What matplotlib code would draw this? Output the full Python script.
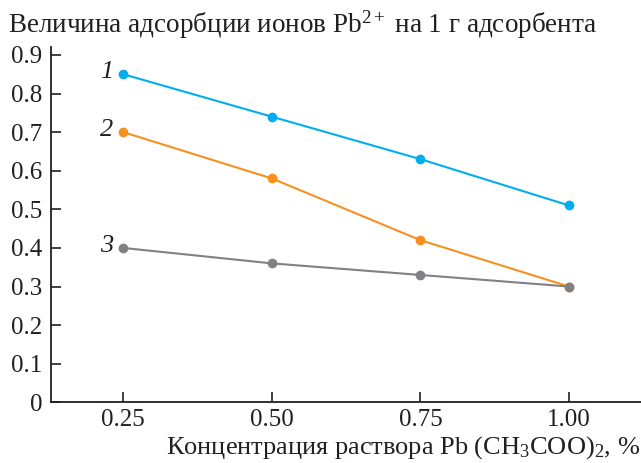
import numpy as np
import matplotlib
matplotlib.use("Agg")
import matplotlib.pyplot as plt

plt.rcParams['font.family'] = ['Liberation Serif', 'DejaVu Serif']
plt.rcParams['mathtext.fontset'] = 'custom'
plt.rcParams['mathtext.rm'] = 'Liberation Serif'
plt.rcParams['mathtext.it'] = 'Liberation Serif:italic'

conc = [0.25, 0.50, 0.75, 1.00]
tick_labels = ["0.25", "0.50", "0.75", "1.00"]
series_1 = [0.85, 0.74, 0.63, 0.51]
series_2 = [0.70, 0.58, 0.42, 0.30]
series_3 = [0.40, 0.36, 0.33, 0.30]
names = ["1", "2", "3"]
colors = ["#00AEEF", "#F7901E", "#808184"]

fig = plt.figure(figsize=(6.41, 4.63), dpi=100)
ax = fig.add_axes([0.079, 0.131, 0.921, 0.767])

for ys, c, n in zip([series_1, series_2, series_3], colors, names):
    ax.plot(conc, ys, color=c, lw=1.5, marker='o', ms=6, zorder=3)
    ax.text(conc[0] - 0.017, ys[0] + 0.005, n, color='#231F20', fontsize=19,
            style='italic', ha='right', va='center')

ax.set_xlim(0.1277, 1.121)
ax.set_ylim(0, 0.92)
ax.set_xticks(conc)
ax.set_xticklabels(tick_labels)
ax.set_yticks(np.arange(0, 0.91, 0.1))
ax.set_yticklabels(["0"] + [f"{v:.1f}" for v in np.arange(0.1, 0.91, 0.1)])

for s in ['top', 'right']:
    ax.spines[s].set_visible(False)
for s in ['left', 'bottom']:
    ax.spines[s].set_linewidth(1.3)
    ax.spines[s].set_color('#231F20')
ax.tick_params(axis='both', direction='in', length=7, width=1.2, color='#231F20',
               labelsize=18, labelcolor='#231F20')
ax.tick_params(axis='x', pad=5)
ax.tick_params(axis='y', pad=6)

fig.text(0.012, 0.946, "Величина адсорбции ионов Pb$^{2+}$ на 1 г адсорбента",
         fontsize=19.5, color='#231F20', ha='left', va='center')
fig.text(0.998, 0.004, "Концентрация раствора Pb (CH$_3$COO)$_2$, %",
         fontsize=19, color='#231F20', ha='right', va='bottom')

fig.savefig("out.png", dpi=100)
